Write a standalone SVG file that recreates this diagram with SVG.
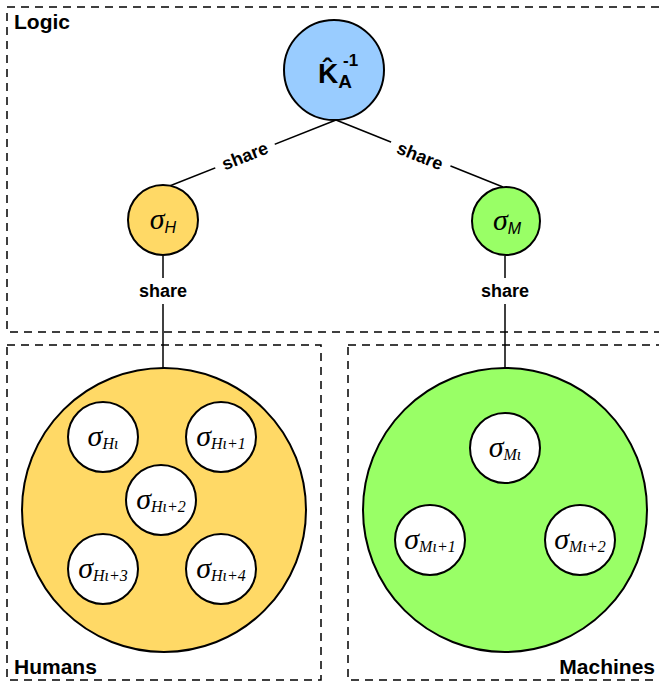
<svg xmlns="http://www.w3.org/2000/svg" width="659" height="688" viewBox="0 0 659 688">
<style>
.box{fill:none;stroke:#000;stroke-width:1.5;stroke-dasharray:8 6}
.c{stroke:#000;stroke-width:2}
.w{fill:#fff}
.y{fill:#ffd966}
.g{fill:#99ff66}
.b{fill:#99ccff}
.lbl{font-family:"Liberation Sans",Arial,sans-serif;font-weight:bold;font-size:21px;fill:#000}
.sh{font-family:"Liberation Sans",Arial,sans-serif;font-weight:bold;font-size:18px;fill:#000;text-anchor:middle}
.sig{font-family:"Liberation Serif","Times New Roman",serif;font-style:italic;font-size:30px;fill:#000;text-anchor:middle}
.sub{font-size:16px}
.edge{stroke:#000;stroke-width:1.5;fill:none}
.k{font-family:"Liberation Sans",Arial,sans-serif;font-weight:bold;fill:#000}
</style>
<g id="containers">
<rect class="box" x="7" y="7" width="662" height="325"/>
<rect class="box" x="7" y="345" width="314" height="335"/>
<rect class="box" x="348" y="345" width="321" height="335"/>
<text class="lbl" x="14" y="29">Logic</text>
<text class="lbl" x="14" y="674">Humans</text>
<text class="lbl" x="655" y="674" text-anchor="end">Machines</text>
</g>
<g id="connectors">
<line class="edge" x1="336" y1="120" x2="167" y2="187"/>
<line class="edge" x1="336" y1="120" x2="503" y2="187"/>
<line class="edge" x1="163" y1="256" x2="163" y2="368"/>
<line class="edge" x1="505" y1="256" x2="505" y2="368"/>
<rect x="213" y="144" width="64" height="24" fill="#fff" transform="rotate(-21.6 245 156)"/>
<rect x="388" y="144" width="64" height="24" fill="#fff" transform="rotate(21.6 420 156)"/>
<rect x="126" y="278" width="76" height="26" fill="#fff"/>
<rect x="468" y="278" width="76" height="26" fill="#fff"/>
<text class="sh" x="245" y="162" transform="rotate(-21.6 245 156)">share</text>
<text class="sh" x="420" y="162" transform="rotate(21.6 420 156)">share</text>
<text class="sh" x="163" y="297">share</text>
<text class="sh" x="505" y="297">share</text>
</g>
<g id="kA">
<circle class="c b" cx="334" cy="70" r="50"/>
<text class="k" x="318" y="83" font-size="28">K&#x302;<tspan font-size="19" dy="5">A</tspan><tspan font-size="17" dx="-9" dy="-22">-1</tspan></text>
</g>
<g id="sigmaH">
<circle class="c y" cx="163" cy="220" r="35"/>
<text class="sig" x="163" y="229">σ<tspan class="sub" font-family="Liberation Sans,Arial,sans-serif" dy="4">H</tspan></text>
</g>
<g id="sigmaM">
<circle class="c g" cx="506" cy="221" r="34"/>
<text class="sig" x="507" y="230">σ<tspan class="sub" font-family="Liberation Sans,Arial,sans-serif" dy="4">M</tspan></text>
</g>
<g id="humans">
<circle class="c y" cx="164" cy="510" r="142"/>
</g>
<g id="machines">
<circle class="c g" cx="505" cy="510" r="142"/>
</g>
<g id="h1"><circle class="c w" cx="103" cy="437" r="35"/><text class="sig" x="103" y="446">σ<tspan class="sub" dy="3">Hι</tspan></text></g>
<g id="h2"><circle class="c w" cx="221" cy="437" r="35"/><text class="sig" x="221" y="446">σ<tspan class="sub" dy="3">Hι+1</tspan></text></g>
<g id="h3"><circle class="c w" cx="161" cy="500" r="35"/><text class="sig" x="161" y="509">σ<tspan class="sub" dy="3">Hι+2</tspan></text></g>
<g id="h4"><circle class="c w" cx="103" cy="569" r="35"/><text class="sig" x="103" y="578">σ<tspan class="sub" dy="3">Hι+3</tspan></text></g>
<g id="h5"><circle class="c w" cx="221" cy="569" r="35"/><text class="sig" x="221" y="578">σ<tspan class="sub" dy="3">Hι+4</tspan></text></g>
<g id="m1"><circle class="c w" cx="505" cy="448" r="35"/><text class="sig" x="505" y="457">σ<tspan class="sub" dy="3">Mι</tspan></text></g>
<g id="m2"><circle class="c w" cx="430" cy="540" r="35"/><text class="sig" x="430" y="549">σ<tspan class="sub" dy="3">Mι+1</tspan></text></g>
<g id="m3"><circle class="c w" cx="580" cy="540" r="35"/><text class="sig" x="580" y="549">σ<tspan class="sub" dy="3">Mι+2</tspan></text></g>
</svg>
